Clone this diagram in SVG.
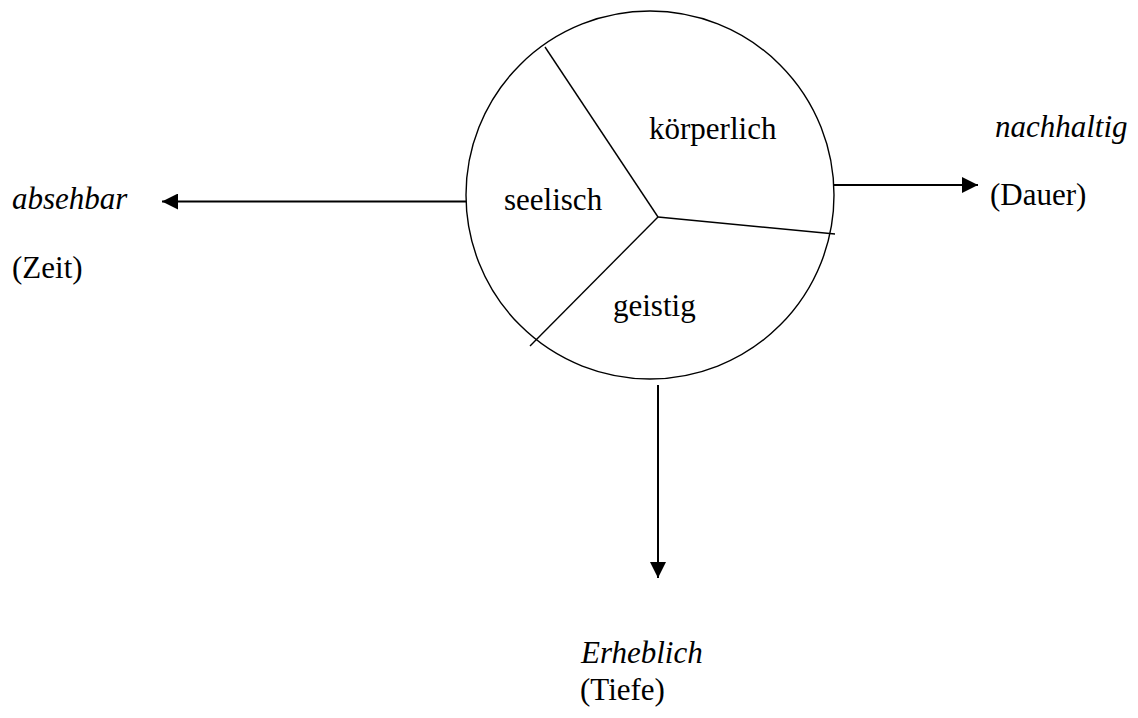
<svg xmlns="http://www.w3.org/2000/svg" width="1138" height="718" viewBox="0 0 1138 718">
<style>
text{font-family:'Liberation Serif','Times New Roman','DejaVu Serif',serif;font-size:31px;fill:#000}
.it{font-style:italic}
.thin{stroke:#000;stroke-width:1.4;fill:none}
.arr{stroke:#000;stroke-width:2;fill:none}
</style>
<defs>
<marker id="ah" viewBox="0 0 16 16" refX="16" refY="8" markerWidth="16" markerHeight="16" markerUnits="userSpaceOnUse" orient="auto">
<path d="M0,0 L16,8 L0,16 Z" fill="#000"/>
</marker>
</defs>
<rect width="1138" height="718" fill="#fff"/>
<g font-family="Liberation Serif, Times New Roman, serif">
<g id="circle">
<circle class="thin" cx="650" cy="195" r="184"/>
<line class="thin" x1="658" y1="217" x2="545" y2="47"/>
<line class="thin" x1="658" y1="217" x2="835" y2="234"/>
<line class="thin" x1="658" y1="217" x2="530" y2="346"/>
<text x="649" y="139">körperlich</text>
<text x="504" y="210">seelisch</text>
<text x="613" y="316">geistig</text>
</g>
<g id="connectors">
<line class="arr" x1="466" y1="201.5" x2="162" y2="201.5" marker-end="url(#ah)"/>
<line class="arr" x1="834" y1="185" x2="978" y2="185" marker-end="url(#ah)"/>
<line class="arr" x1="658" y1="385" x2="658" y2="578" marker-end="url(#ah)"/>
</g>
<g id="left">
<text class="it" x="12" y="209">absehbar</text>
<text x="12" y="278">(Zeit)</text>
</g>
<g id="right">
<text class="it" x="995" y="137">nachhaltig</text>
<text x="990" y="205">(Dauer)</text>
</g>
<g id="bottom">
<text class="it" x="581" y="663">Erheblich</text>
<text x="580" y="700">(Tiefe)</text>
</g>
</g>
</svg>
